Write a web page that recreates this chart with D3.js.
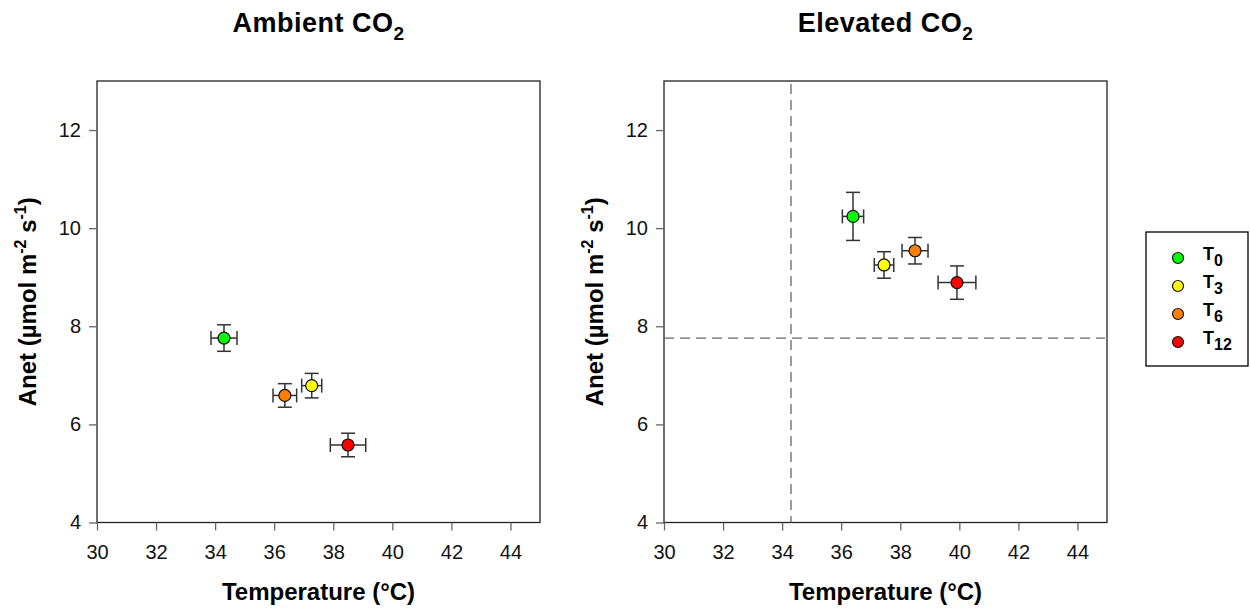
<!DOCTYPE html>
<html>
<head>
<meta charset="utf-8">
<script src="https://cdn.jsdelivr.net/npm/d3@7"></script>
<style>
  body { margin: 0; background: #fff; }
  text { font-family: Arial, "Liberation Sans", sans-serif; }
</style>
</head>
<body>
<div id="chart"></div>
<script>
// treatments
var groups = ['T0', 'T3', 'T6', 'T12'];
var groupColors = ['#00ff00', '#ffff00', '#ff8000', '#ff0000'];

// ambient CO2
var ambTemp = [34.3, 37.27, 36.36, 38.5];
var ambTempErr = [0.44, 0.34, 0.4, 0.6];
var ambAnet = [7.76, 6.79, 6.59, 5.58];
var ambAnetErr = [0.27, 0.25, 0.24, 0.24];

// elevated CO2
var eleTemp = [36.4, 37.45, 38.5, 39.92];
var eleTempErr = [0.36, 0.33, 0.44, 0.64];
var eleAnet = [10.24, 9.25, 9.54, 8.89];
var eleAnetErr = [0.49, 0.27, 0.27, 0.34];

var xTicks = [30, 32, 34, 36, 38, 40, 42, 44];
var yTicks = [4, 6, 8, 10, 12];

var w_width = 1250, w_height = 608;

var svg = d3.select('#chart').append('svg')
  .attr('width', w_width)
  .attr('height', w_height)

function panel(left, titleText, temp, tempErr, anet, anetErr, refLines){
  var x = d3.scaleLinear().domain([30, 45]).range([left, left + 443])
  var y = d3.scaleLinear().domain([4, 13]).range([522.5, 81])

  var g = svg.append('g')

  // frame
  g.append('rect')
    .attr('x', x(30)).attr('y', y(13))
    .attr('width', x(45) - x(30)).attr('height', y(4) - y(13))
    .attr('fill', 'none').attr('stroke', '#222').attr('stroke-width', 1.3)

  var xAxis = g.append('g')
    .attr('transform', 'translate(0,' + y(4) + ')')
    .call(d3.axisBottom(x).tickValues(xTicks).tickSize(8).tickSizeOuter(0))
  var yAxis = g.append('g')
    .attr('transform', 'translate(' + x(30) + ',0)')
    .call(d3.axisLeft(y).tickValues(yTicks).tickSize(8).tickSizeOuter(0))
  ;[xAxis, yAxis].forEach(function(a){
    a.select('.domain').remove()
    a.selectAll('line').attr('stroke', '#666').attr('stroke-width', 1.3)
    a.selectAll('text').attr('font-size', 20).attr('fill', '#111')
      .style('font-family', 'Arial, "Liberation Sans", sans-serif')
  })
  xAxis.selectAll('text').attr('dy', '1.28em')
  yAxis.selectAll('text').attr('dx', '-0.25em')

  // dashed reference lines (ambient T0)
  if (refLines) {
    g.append('line')
      .attr('x1', x(refLines[0])).attr('x2', x(refLines[0]))
      .attr('y1', y(13) + 3).attr('y2', y(4))
      .attr('stroke', '#666').attr('stroke-width', 1.3).style('stroke-dasharray', '10, 6')
    g.append('line')
      .attr('x1', x(30)).attr('x2', x(45) - 2)
      .attr('y1', y(refLines[1])).attr('y2', y(refLines[1]))
      .attr('stroke', '#666').attr('stroke-width', 1.3).style('stroke-dasharray', '10, 6')
  }

  var data = groups.map(function(d, i){
    return {t: temp[i], te: tempErr[i], a: anet[i], ae: anetErr[i], c: groupColors[i]}
  })

  var pts = g.selectAll('.pt').data(data).enter().append('g').attr('class', 'pt')
  var cap = 7, ec = '#333'
  pts.append('line')
    .attr('x1', function(d){ return x(d.t - d.te) }).attr('x2', function(d){ return x(d.t + d.te) })
    .attr('y1', function(d){ return y(d.a) }).attr('y2', function(d){ return y(d.a) })
  pts.append('line')
    .attr('x1', function(d){ return x(d.t) }).attr('x2', function(d){ return x(d.t) })
    .attr('y1', function(d){ return y(d.a - d.ae) }).attr('y2', function(d){ return y(d.a + d.ae) })
  pts.append('line')
    .attr('x1', function(d){ return x(d.t - d.te) }).attr('x2', function(d){ return x(d.t - d.te) })
    .attr('y1', function(d){ return y(d.a) - cap }).attr('y2', function(d){ return y(d.a) + cap })
  pts.append('line')
    .attr('x1', function(d){ return x(d.t + d.te) }).attr('x2', function(d){ return x(d.t + d.te) })
    .attr('y1', function(d){ return y(d.a) - cap }).attr('y2', function(d){ return y(d.a) + cap })
  pts.append('line')
    .attr('x1', function(d){ return x(d.t) - cap }).attr('x2', function(d){ return x(d.t) + cap })
    .attr('y1', function(d){ return y(d.a - d.ae) }).attr('y2', function(d){ return y(d.a - d.ae) })
  pts.append('line')
    .attr('x1', function(d){ return x(d.t) - cap }).attr('x2', function(d){ return x(d.t) + cap })
    .attr('y1', function(d){ return y(d.a + d.ae) }).attr('y2', function(d){ return y(d.a + d.ae) })
  pts.selectAll('line').attr('stroke', ec).attr('stroke-width', 1.5)
  pts.append('circle')
    .attr('cx', function(d){ return x(d.t) }).attr('cy', function(d){ return y(d.a) })
    .attr('r', 6).attr('fill', function(d){ return d.c })
    .attr('stroke', '#111').attr('stroke-width', 1.2)

  // titles
  var cx = (x(30) + x(45)) / 2
  var t = g.append('text').attr('x', cx).attr('y', 32).attr('text-anchor', 'middle')
    .attr('font-size', 27).attr('font-weight', 'bold').attr('fill', '#000')
    .style('letter-spacing', '0.5px')
  t.append('tspan').text(titleText + ' CO')
  t.append('tspan').text('2').attr('font-size', 19).attr('dy', 8)

  g.append('text').attr('x', cx).attr('y', 600).attr('text-anchor', 'middle')
    .attr('font-size', 24).attr('font-weight', 'bold').attr('fill', '#000')
    .text('Temperature (°C)')

  var yl = g.append('text')
    .attr('transform', 'translate(' + (left - 61) + ',' + ((y(4) + y(13)) / 2) + ') rotate(-90)')
    .attr('text-anchor', 'middle')
    .attr('font-size', 24).attr('font-weight', 'bold').attr('fill', '#000')
  yl.append('tspan').text('Anet (µmol m')
  yl.append('tspan').text('-2').attr('font-size', 16).attr('dy', -10)
  yl.append('tspan').text(' s').attr('font-size', 24).attr('dy', 10)
  yl.append('tspan').text('-1').attr('font-size', 16).attr('dy', -10)
  yl.append('tspan').text(')').attr('font-size', 24).attr('dy', 10)
}

panel(97, 'Ambient', ambTemp, ambTempErr, ambAnet, ambAnetErr, null)
panel(664, 'Elevated', eleTemp, eleTempErr, eleAnet, eleAnetErr, [ambTemp[0], ambAnet[0]])

// legend
var legend = svg.append('g').attr('transform', 'translate(1146,232)')
legend.append('rect').attr('x', 0).attr('y', 0).attr('width', 102).attr('height', 134)
  .attr('fill', '#fff').attr('stroke', '#000').attr('stroke-width', 1.3)
var items = legend.selectAll('.item').data(groups).enter().append('g')
  .attr('transform', function(d, i){ return 'translate(0,' + (26 + i * 28) + ')' })
items.append('circle').attr('cx', 32).attr('cy', 0).attr('r', 5.5)
  .attr('fill', function(d, i){ return groupColors[i] })
  .attr('stroke', '#111').attr('stroke-width', 1.2)
var lt = items.append('text').attr('x', 57).attr('y', 2)
  .attr('font-size', 18).attr('font-weight', 'bold').attr('fill', '#000')
lt.append('tspan').text('T')
lt.append('tspan').text(function(d){ return d.slice(1) }).attr('font-size', 16).attr('dy', 6)
</script>
</body>
</html>
